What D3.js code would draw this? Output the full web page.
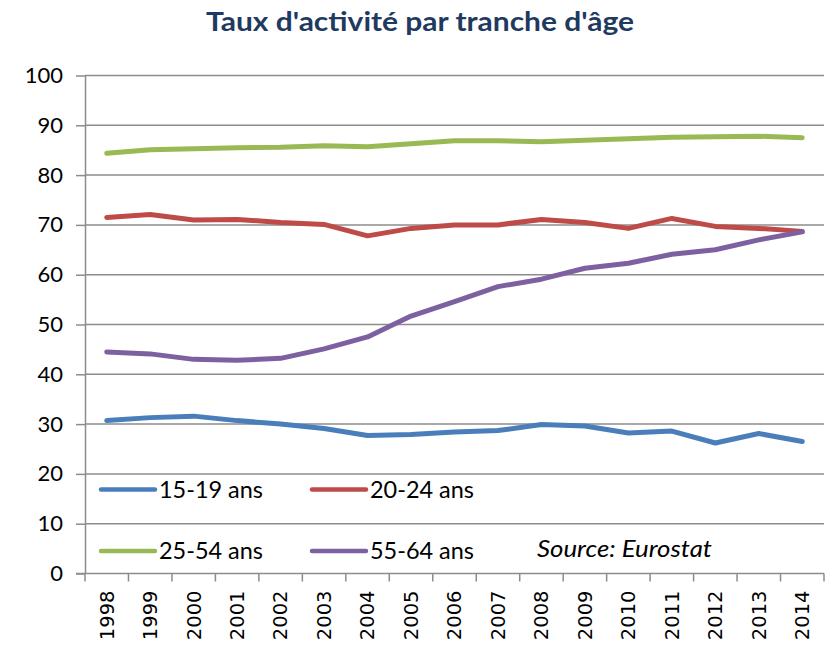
<!DOCTYPE html>
<html>
<head>
<meta charset="utf-8">
<script src="https://cdn.jsdelivr.net/npm/d3@7"></script>
<style>
  body { margin: 0; background: #fff; }
  svg { display: block; }
</style>
</head>
<body>
<svg id="chart" width="833" height="645"></svg>
<script>
const years = ['1998', '1999', '2000', '2001', '2002', '2003', '2004', '2005', '2006',
  '2007', '2008', '2009', '2010', '2011', '2012', '2013', '2014'];
const yTicks = [0, 10, 20, 30, 40, 50, 60, 70, 80, 90, 100];

// taux d'activité (%) par tranche
const age1519 = [30.7, 31.3, 31.6, 30.7, 30.0, 29.1, 27.7, 27.9, 28.4, 28.7, 29.9, 29.6, 28.2, 28.6, 26.2, 28.1, 26.5];
const age2024 = [71.5, 72.1, 71.0, 71.1, 70.5, 70.1, 67.8, 69.3, 70.0, 70.0, 71.1, 70.5, 69.3, 71.3, 69.7, 69.3, 68.7];
const age2554 = [84.4, 85.1, 85.3, 85.5, 85.6, 85.9, 85.7, 86.3, 86.9, 86.9, 86.7, 87.0, 87.3, 87.6, 87.7, 87.8, 87.5];
const age5564 = [44.5, 44.1, 43.0, 42.8, 43.2, 45.1, 47.5, 51.7, 54.6, 57.6, 59.1, 61.3, 62.3, 64.1, 65.0, 67.0, 68.6];

const seriesNames = ['15-19 ans', '20-24 ans', '25-54 ans', '55-64 ans'];
const seriesValues = [age1519, age2024, age2554, age5564];
const colors = ['#4a7ebb', '#be4b48', '#98b954', '#7d60a0'];

const svg = d3.select('#chart');
const plotLeft = 85, plotRight = 824, plotTop = 75.5, plotBottom = 573.5;

const x = d3.scaleBand().domain(years).range([plotLeft, plotRight]).padding(0);
const y = d3.scaleLinear().domain([0, 100]).range([plotBottom, plotTop]);

// title (stretched a bit to the width of the original)
svg.append('text')
  .attr('x', 420)
  .attr('y', 31)
  .attr('text-anchor', 'middle')
  .attr('textLength', 428)
  .attr('lengthAdjust', 'spacingAndGlyphs')
  .style('font-family', 'Lato, sans-serif')
  .style('font-weight', 'bold')
  .style('font-size', '26px')
  .style('fill', '#1f3a60')
  .text("Taux d'activité par tranche d'âge");

// gridlines
svg.append('g')
  .selectAll('line')
  .data(yTicks.filter((d) => d > 0))
  .enter()
  .append('line')
  .attr('x1', plotLeft)
  .attr('x2', plotRight)
  .attr('y1', (d) => y(d))
  .attr('y2', (d) => y(d))
  .attr('stroke', '#8c8c8c')
  .attr('stroke-width', 1.5);

// y axis
const yAxis = svg.append('g')
  .attr('transform', `translate(${plotLeft},0)`)
  .call(d3.axisLeft(y).tickValues(yTicks).tickSize(9).tickSizeOuter(0).tickPadding(13));
yAxis.selectAll('path, line').attr('stroke', '#8c8c8c').attr('stroke-width', 1.5);
yAxis.selectAll('text')
  .style('font-family', 'Lato, sans-serif')
  .style('font-size', '22px')
  .style('fill', '#000');

// x axis, ticks between categories
const xAxis = svg.append('g')
  .attr('transform', `translate(0,${plotBottom})`)
  .call(d3.axisBottom(x).tickSize(0).tickPadding(0));
xAxis.select('path.domain').remove();
xAxis.append('line')
  .attr('x1', plotLeft - 9)
  .attr('x2', plotRight)
  .attr('stroke', '#8c8c8c')
  .attr('stroke-width', 1.5);
xAxis.selectAll('line.sep')
  .data(d3.range(years.length + 1))
  .enter()
  .append('line')
  .attr('class', 'sep')
  .attr('x1', (i) => plotLeft + i * x.bandwidth())
  .attr('x2', (i) => plotLeft + i * x.bandwidth())
  .attr('y2', 8)
  .attr('stroke', '#8c8c8c')
  .attr('stroke-width', 1.5);
xAxis.selectAll('.tick text')
  .attr('transform', 'rotate(-90)')
  .attr('x', -17)
  .attr('y', 0)
  .attr('dy', '0.35em')
  .style('text-anchor', 'end')
  .style('font-family', '"DejaVu Sans", sans-serif')
  .style('font-size', '19.5px')
  .style('fill', '#000');

// lines
const line = d3.line()
  .x((d, i) => x(years[i]) + x.bandwidth() / 2)
  .y((d) => y(d));

svg.append('g')
  .selectAll('path')
  .data(seriesValues)
  .enter()
  .append('path')
  .attr('d', line)
  .attr('fill', 'none')
  .attr('stroke', (d, i) => colors[i])
  .attr('stroke-width', 5)
  .attr('stroke-linejoin', 'round')
  .attr('stroke-linecap', 'round');

// legend
const legendPos = [[101, 489.5], [312, 489.5], [101, 551], [312, 551]];
const legend = svg.append('g')
  .selectAll('g')
  .data(seriesNames)
  .enter()
  .append('g')
  .attr('transform', (d, i) => `translate(${legendPos[i][0]},${legendPos[i][1]})`);
legend.append('line')
  .attr('x1', 0)
  .attr('x2', 54)
  .attr('stroke', (d, i) => colors[i])
  .attr('stroke-width', 4.5)
  .attr('stroke-linecap', 'round');
legend.append('text')
  .attr('x', 58)
  .attr('y', 8)
  .attr('textLength', 104)
  .attr('lengthAdjust', 'spacingAndGlyphs')
  .style('font-family', 'Lato, sans-serif')
  .style('font-size', '23px')
  .style('fill', '#000')
  .text((d) => d);

svg.append('text')
  .attr('x', 537)
  .attr('y', 557)
  .attr('textLength', 175)
  .attr('lengthAdjust', 'spacingAndGlyphs')
  .style('font-family', 'Lato, sans-serif')
  .style('font-style', 'italic')
  .style('font-size', '23px')
  .style('fill', '#000')
  .text('Source: Eurostat');
</script>
</body>
</html>
